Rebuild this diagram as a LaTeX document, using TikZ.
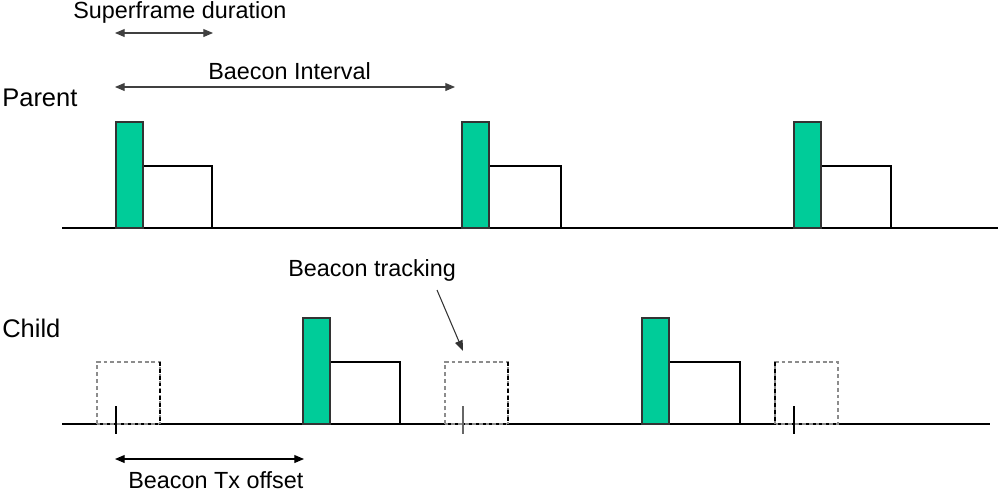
\documentclass[tikz,border=0pt]{standalone}
\usepackage{fontspec}
\setmainfont{Liberation Sans}
\usetikzlibrary{arrows.meta}
\definecolor{slotgreen}{RGB}{0,204,153}
\begin{document}
\begin{tikzpicture}[x=0.02cm,y=-0.02cm,
  lbl/.style={inner sep=0pt,anchor=base west,font=\fontsize{13.3}{16}\selectfont},
  rowlbl/.style={inner sep=0pt,anchor=base west,font=\fontsize{14.5}{17}\selectfont},
  axis/.style={line width=0.8pt,black},
  beaconbar/.style={fill=slotgreen,draw=black!80,line width=0.6pt},
  activebox/.style={draw=black,line width=0.6pt},
  ghost/.style={draw=black!45,line width=0.6pt,dash pattern=on 2.2pt off 1.7pt},
  ghostdark/.style={draw=black,line width=0.7pt,dash pattern=on 2.2pt off 1.7pt},
  dimarrow/.style={draw=black!75,line width=0.6pt,{Triangle[length=5.5pt,width=4.5pt]}-{Triangle[length=5.5pt,width=4.5pt]}},
  pointer/.style={draw=black!80,line width=0.6pt,-{Triangle[length=6pt,width=4.5pt]}},
  tick/.style={line width=0.7pt}]
\useasboundingbox (0,0) rectangle (1000,491);

% labels
\node[lbl] (sfd) at (73,18) {Superframe duration};
\node[lbl] (bi) at (208,79) {Baecon Interval};
\node[rowlbl] (parent) at (2,106) {Parent};
\node[rowlbl] (child) at (2,337) {Child};
\node[lbl] (bt) at (288,276) {Beacon tracking};
\node[lbl] (bto) at (128,488) {Beacon Tx offset};

% parent row
\draw[axis] (62,228) -- (998,228);
\foreach \x/\w in {116/212,462/561,794/891}{
  \draw[activebox] (\x+27,228) rectangle (\w,166);
  \draw[beaconbar] (\x,228) rectangle (\x+27,122);
}

% child row
\draw[axis] (62,424) -- (990,424);
\foreach \x/\w in {303/400,642/740}{
  \draw[activebox] (\x+27,424) rectangle (\w,362);
  \draw[beaconbar] (\x,424) rectangle (\x+27,318);
}
% ghost (tracking) boxes
\draw[ghost] (97,424) rectangle (160,362);
\draw[ghostdark] (160,362) -- (160,424);
\draw[ghost] (445,424) rectangle (508,362);
\draw[ghostdark] (508,362) -- (508,424);
\draw[ghost] (775,424) rectangle (838,362);
\draw[ghostdark] (775,362) -- (775,424);
% ticks
\draw[tick] (116,406) -- (116,434);
\draw[tick,black!60] (463,406) -- (463,434);
\draw[tick] (794,406) -- (794,434);

% dimension arrows
\coordinate (sfa) at (115,33);
\coordinate (sfb) at (213,33);
\draw[dimarrow] (sfa) -- (sfb);
\coordinate (bia) at (115,87);
\coordinate (bib) at (455,87);
\draw[dimarrow] (bia) -- (bib);
\coordinate (txa) at (115,459);
\coordinate (txb) at (304,459);
\draw[dimarrow,draw=black] (txa) -- (txb);

% beacon tracking pointer
\coordinate (pta) at (437,290);
\coordinate (ptb) at (463,351);
\draw[pointer] (pta) -- (ptb);
\end{tikzpicture}
\end{document}
